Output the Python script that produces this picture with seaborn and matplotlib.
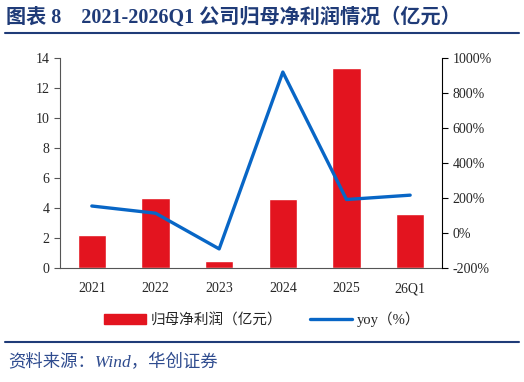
import numpy as np
import pandas as pd
import matplotlib
matplotlib.use("Agg")
import matplotlib.pyplot as plt
from matplotlib.patches import Patch
from matplotlib.lines import Line2D
from matplotlib.ticker import FuncFormatter
import seaborn as sns

# data
periods = ["2021", "2022", "2023", "2024", "2025", "26Q1"]
profit = [2.2, 4.65, 0.5, 4.6, 13.35, 3.6]       # 归母净利润 (亿元)
yoy = [155, 114, -90, 920, 192, 217]             # yoy (%)

RED = "#E3141F"
BLUE = "#0866C6"
NAVY = "#1F3B78"

sns.set_style("white")
plt.rcParams["font.family"] = ["Liberation Serif", "Noto Sans CJK SC", "DejaVu Sans"]

df = pd.DataFrame({"period": periods, "profit": profit, "yoy": yoy})

fig = plt.figure(figsize=(5.24, 3.82), dpi=100)
ax = fig.add_axes([0.1145, 0.298, 0.729, 0.55])

sns.barplot(data=df, x="period", y="profit", color=RED, width=0.44,
            saturation=1, ax=ax)
ax2 = ax.twinx()
sns.pointplot(data=df, x="period", y="yoy", color=BLUE, markers="",
              linewidth=2.4, ax=ax2)

ax.set_xlim(-0.5, len(periods) - 0.5)
ax2.set_xlim(-0.5, len(periods) - 0.5)
ax.set_ylim(0, 14)
ax.set_yticks(np.arange(0, 15, 2))
ax2.set_ylim(-200, 1000)
ax2.set_yticks(np.arange(-200, 1001, 200))
ax2.yaxis.set_major_formatter(FuncFormatter(lambda v, p: f"{v:.0f}%"))

ax.set_xlabel("")
ax.set_ylabel("")
ax2.set_xlabel("")
ax2.set_ylabel("")

for a in (ax, ax2):
    for s in a.spines.values():
        s.set_visible(False)
ax.spines["left"].set_visible(True)
ax.spines["left"].set_color("#555555")
ax.spines["bottom"].set_visible(True)
ax.spines["bottom"].set_color("#555555")
ax2.spines["right"].set_visible(True)
ax2.spines["right"].set_color("black")

# category ticks: labels at centres, tick marks at boundaries
ax.set_xticks(np.arange(len(periods)))
ax.set_xticklabels(periods)
ax.set_xticks(np.arange(-0.5, len(periods)), minor=True)
ax.tick_params(axis="x", which="major", length=0, labelsize=10, pad=10)
ax.tick_params(axis="x", which="minor", length=4, color="#555555", direction="out")
ax.tick_params(axis="y", length=4, color="#555555", direction="out", labelsize=10)
ax2.tick_params(axis="y", length=4, color="black", direction="out", labelsize=10)
ax.tick_params(left=True, bottom=True)
ax2.tick_params(right=True)

handles = [Patch(facecolor=RED, edgecolor=RED),
           Line2D([0], [0], color=BLUE, lw=2.4)]
fig.legend(handles, ["归母净利润（亿元）", "yoy（%）"], loc="center",
           bbox_to_anchor=(0.5, 0.163), ncol=2, frameon=False, fontsize=10.5,
           handlelength=2.9, columnspacing=1.9, handletextpad=0.3)

fig.text(0.012, 0.953, "图表 8    2021-2026Q1 公司归母净利润情况（亿元）",
         fontsize=14.5, fontweight="bold", color=NAVY, va="center", ha="left")
fig.add_artist(Line2D([0.01, 0.99], [0.913, 0.913], color=NAVY, lw=1.5))
fig.add_artist(Line2D([0.01, 0.99], [0.105, 0.105], color=NAVY, lw=1.5))
fig.text(0.015, 0.052, "资料来源：Wind，华创证券", fontsize=12.5,
         style="italic", color="#2F4C8F", va="center", ha="left")

fig.savefig("out.png", dpi=100)
